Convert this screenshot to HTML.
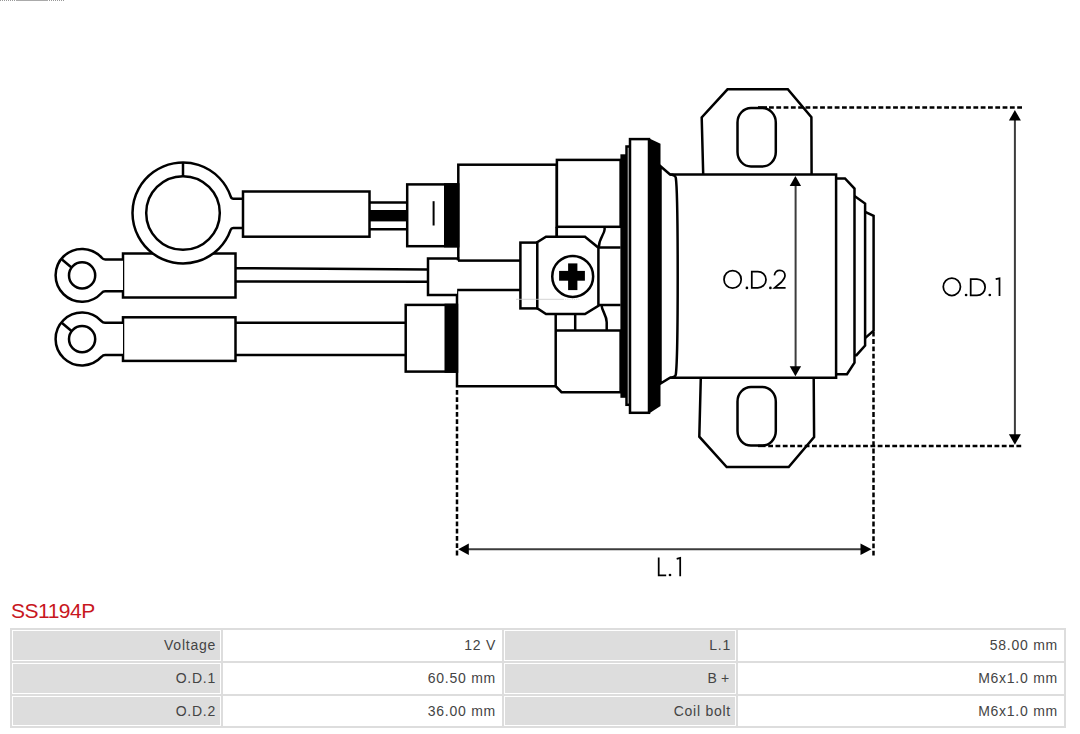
<!DOCTYPE html>
<html>
<head>
<meta charset="utf-8">
<style>
html,body{margin:0;padding:0;background:#fff;}
body{width:1080px;height:734px;position:relative;overflow:hidden;font-family:"Liberation Sans",sans-serif;}
svg.d{position:absolute;left:0;top:0;}
.title{position:absolute;left:11px;top:599px;font-size:21px;line-height:24px;color:#c8171e;letter-spacing:-0.5px;}
.tbl{position:absolute;left:10px;top:628px;width:1056px;height:100px;background:#ddd;}
.c{position:absolute;box-sizing:border-box;border:1px solid #fff;font-size:14px;color:#444;text-align:right;padding-right:5px;line-height:17px;letter-spacing:0.75px;}
.v{padding-right:5px;}
.l{background:#ddd;}
.v{background:#fff;}
</style>
</head>
<body>
<svg class="d" width="1080" height="600" viewBox="0 0 1080 600">
<g fill="#fff" stroke="#000" stroke-width="2.5" stroke-linejoin="miter">
  <!-- terminal 3 (bottom) -->
  <rect x="123" y="317.3" width="112.5" height="43.6"/>
  <path d="M123,322.8 H105.05 Q102.85,322.8 101.424,321.121 A26.4 26.4 0 1 0 101.594,356.692 Q103.00,355 105.20,355 H123"/>
  <circle cx="82.1" cy="339.1" r="13.1"/>
  <line x1="71.5" y1="331" x2="62" y2="323"/>
  <!-- terminal 2 (middle) -->
  <rect x="123" y="253.5" width="112.5" height="44"/>
  <path d="M123,259.4 H105.27 Q103.07,259.4 101.678,257.701 A26.4 26.4 0 1 0 101.594,292.992 Q103.00,291.3 105.20,291.3 H123"/>
  <circle cx="82.1" cy="275.45" r="13.1"/>
  <line x1="71.5" y1="267.5" x2="62" y2="259.5"/>
  <!-- terminal 1 (big) -->
  <path d="M243,198.8 H233.46 Q231.46,198.8 230.862,196.892 A50.5 50.5 0 1 0 230.624,229.799 Q231.25,227.9 233.25,227.9 H243"/>
  <circle cx="183" cy="213" r="36.8"/>
  <line x1="183" y1="162.5" x2="183" y2="176.2"/>
  <rect x="243" y="191.5" width="126.5" height="45.2"/>
  <!-- wire 1 -->
  <line x1="369.5" y1="202.4" x2="407" y2="202.4"/>
  <line x1="369.5" y1="229.2" x2="407" y2="229.2"/>
  <!-- wire 2 -->
  <line x1="235.5" y1="268.2" x2="428" y2="269.4"/>
  <line x1="235.5" y1="281.6" x2="428" y2="281.7"/>
  <!-- wire 3 -->
  <line x1="235.5" y1="322.8" x2="405.7" y2="322.8"/>
  <line x1="235.5" y1="355" x2="405.7" y2="355"/>
  <!-- main block A -->
  <rect x="458.3" y="164.7" width="98.5" height="95.9"/>
  <!-- block C -->
  <path d="M457,290 V386.2 H555.7"/>
  <path d="M457,290 H521"/>
  <!-- connector 2 -->
  <path d="M458,260.6 V258.5 H428 V294.9 H457"/>
  <!-- connector 1 -->
  <rect x="407.2" y="184.4" width="51" height="61.8"/>
  <!-- connector 3 -->
  <rect x="405.7" y="304.9" width="51.3" height="66.7"/>
  <!-- block B -->
  <rect x="556.9" y="159.9" width="63.7" height="66.9"/>
  <!-- block D -->
  <path d="M555.7,314 V386.2 L561.5,392.2 H620.6 V330.5 H555.7" />
  <line x1="575.2" y1="314" x2="575.2" y2="330.5"/>
  <path d="M556.7,226.8 V237" fill="none"/>
  <path d="M604.6,226.8 V229.5 C604.4,234.5 599,238 598.8,247.5" fill="none"/>
  <path d="M598.8,247.5 H620.6" fill="none"/>
  <path d="M598.8,305 H620.6" fill="none"/>
  <path d="M601.5,305 C601.8,311 606.6,315 606.7,322.2 V330.5" fill="none"/>
  <!-- washer -->
  <rect x="520.4" y="242.6" width="17" height="65.8"/>
  <!-- hex -->
  <path d="M546,236.8 H585 L598.4,247.7 V305.7 L585,314.1 H546 L537.3,308.4 V242.3 Z"/>
  <circle cx="572.7" cy="276.45" r="20.45"/>
  <!-- plates -->
  <rect x="626.5" y="146.5" width="3.5" height="258.3"/>
  <rect x="630" y="139.1" width="19" height="273.7"/>
  <!-- flare -->
  <path d="M660.5,166.3 L670,174.5 Q675,174.6 675.8,177.8 C677,186 677.7,220 677.7,276 C677.7,332 677,366 675.8,374.6 Q675,377.6 670,377.7 L660.5,383.6 Z"/>
  <!-- flanges -->
  <path d="M703.2,174.5 L701.7,117.5 L727.5,89.3 H787.8 L811.4,117.2 L811.6,174.5"/>
  <rect x="737.5" y="108" width="38.3" height="58.5" rx="13.5" ry="14.5"/>
  <path d="M700.8,377.7 L699.3,436.7 L726.7,467 H788.7 L814.1,437 L813.7,377.7"/>
  <rect x="737.5" y="387" width="38.3" height="58.6" rx="13.5" ry="14.5"/>
  <!-- caps -->
  <g fill="none">
  <path d="M836.1,178.4 H845 L854.5,188.6 V362.7 L847,374.3 H836.1"/>
  <path d="M854.5,196.1 L865.1,203.6 V345.6 L856.5,355.2 H854.5"/>
  <path d="M865.1,211.8 L873.6,215.9 V330.7 L865.1,338.1"/>
  </g>
  <!-- body -->
  <path d="M670,174.5 H836.1 V377.7 H670" fill="none"/>
</g>
<g fill="#000" stroke="none">
  <!-- wire1 black band -->
  <rect x="369.5" y="210" width="37.5" height="11.4"/>
  <!-- connector black bands -->
  <rect x="444" y="183.2" width="14.5" height="64.2"/>
  <rect x="444.5" y="303.7" width="13" height="69.1"/>
  <!-- P1 -->
  <rect x="620.4" y="154.3" width="6.6" height="243.5"/>
  <!-- P4 -->
  <path d="M648.3,138 L660.5,143.8 V406 L648.3,414 Z"/>
  <!-- cross -->
  <rect x="568.1" y="263.4" width="9.3" height="26.7"/>
  <rect x="559.1" y="270.9" width="25.8" height="9.8"/>
</g>
<!-- connector 1 mark -->
<line x1="433.6" y1="201.2" x2="433.6" y2="225.5" stroke="#000" stroke-width="2"/>
<!-- dimension lines -->
<g stroke="#000" stroke-width="2.5" fill="none" stroke-dasharray="4.8 2.5">
  <line x1="769" y1="107.4" x2="1022.1" y2="107.4"/>
  <line x1="768.2" y1="445.9" x2="1021.2" y2="445.9"/>
  <line x1="457" y1="390" x2="457" y2="555.6"/>
  <line x1="873.5" y1="331.8" x2="873.5" y2="555.6"/>
</g>
<g stroke="#000" stroke-width="2.5">
  <line x1="758" y1="107.4" x2="767" y2="107.4"/>
  <line x1="758" y1="445.9" x2="765.5" y2="445.9"/>
</g>
<g stroke="#3c3c3c" stroke-width="2" fill="none">
  <line x1="795.6" y1="184" x2="795.6" y2="368"/>
  <line x1="1014.9" y1="118" x2="1014.9" y2="436"/>
  <line x1="466" y1="549.3" x2="863" y2="549.3"/>
</g>
<g fill="#000">
  <path d="M795.4,176 L801.1,186 H789.7 Z"/>
  <path d="M795.4,376.2 L801.1,366.2 H789.7 Z"/>
  <path d="M1014.9,110 L1020.9,120.6 H1008.9 Z"/>
  <path d="M1014.9,444.7 L1020.9,434.3 H1008.9 Z"/>
  <path d="M458.3,549.3 L468.8,543.6 V555 Z"/>
  <path d="M871.5,549.3 L860.5,543.6 V555 Z"/>
</g>
<!-- labels -->
<g stroke="#000" stroke-width="1.75" fill="none">
  <!-- O.D.2 -->
  <ellipse cx="732.6" cy="279.4" rx="8.6" ry="8.75"/>
  <path d="M751.8,271.55 H757.85 A8.15,8.15 0 0 1 757.85,287.85 H751.8 Z"/>
  <path d="M774.4,275.3 C775,272 777,270.4 779.8,270.4 C783,270.4 785,272.8 785,275.6 C785,278 783.5,279.8 781.5,282 L774.6,287.9 H785.6"/>
  <!-- O.D.1 -->
  <ellipse cx="951.85" cy="286.8" rx="8.6" ry="8.75"/>
  <path d="M970.7,279.05 H976.95 A8.2,8.2 0 0 1 976.95,295.45 H970.7 Z"/>
  <path d="M995.7,279.2 L999.5,278.3 V296"/>
  <!-- L.1 -->
  <path d="M658.7,557.6 V575.4 H666.2"/>
  <path d="M676.7,558.8 L680.2,557.9 V576.2"/>
</g>
<g fill="#000">
  <circle cx="746.9" cy="287.9" r="1.35"/>
  <circle cx="770.4" cy="287.9" r="1.35"/>
  <circle cx="966.1" cy="295" r="1.35"/>
  <circle cx="989.8" cy="295" r="1.35"/>
  <circle cx="670" cy="575" r="1.35"/>
</g>
<line x1="516" y1="299.3" x2="563" y2="299.3" stroke="#c8c8c8" stroke-width="0.8"/><line x1="563" y1="299.3" x2="580" y2="299.3" stroke="#ccc" stroke-width="0.8" stroke-dasharray="1 1.2"/>
</svg>
<svg style="position:absolute;left:0;top:0" width="70" height="2"><line x1="0" y1="0.5" x2="16" y2="0.5" stroke="#999" stroke-width="1" stroke-dasharray="1 1"/><line x1="16" y1="0.5" x2="48" y2="0.5" stroke="#aaa" stroke-width="1"/><line x1="49" y1="0.5" x2="65" y2="0.5" stroke="#999" stroke-width="1" stroke-dasharray="1 1"/></svg>

<div class="title">SS1194P</div>
<div class="tbl">
  <div class="c l" style="left:2px;top:2px;width:209px;height:31px;padding-top:6px;padding-right:4px;">Voltage</div>
  <div class="c v" style="left:213px;top:2px;width:279px;height:31px;padding-top:6px;">12 V</div>
  <div class="c l" style="left:494px;top:2px;width:232px;height:31px;padding-top:6px;padding-right:4px;">L.1</div>
  <div class="c v" style="left:728px;top:2px;width:326px;height:31px;padding-top:6px;">58.00 mm</div>

  <div class="c l" style="left:2px;top:35px;width:209px;height:31px;padding-top:6px;padding-right:4px;">O.D.1</div>
  <div class="c v" style="left:213px;top:35px;width:279px;height:31px;padding-top:6px;">60.50 mm</div>
  <div class="c l" style="left:494px;top:35px;width:232px;height:31px;padding-top:6px;padding-right:5px;">B<span style="margin-left:3.5px">+</span></div>
  <div class="c v" style="left:728px;top:35px;width:326px;height:31px;padding-top:6px;">M6x1.0 mm</div>

  <div class="c l" style="left:2px;top:68px;width:209px;height:30px;padding-top:6px;padding-right:4px;">O.D.2</div>
  <div class="c v" style="left:213px;top:68px;width:279px;height:30px;padding-top:6px;">36.00 mm</div>
  <div class="c l" style="left:494px;top:68px;width:232px;height:30px;padding-top:6px;padding-right:4px;">Coil bolt</div>
  <div class="c v" style="left:728px;top:68px;width:326px;height:30px;padding-top:6px;">M6x1.0 mm</div>
</div>
</body>
</html>
